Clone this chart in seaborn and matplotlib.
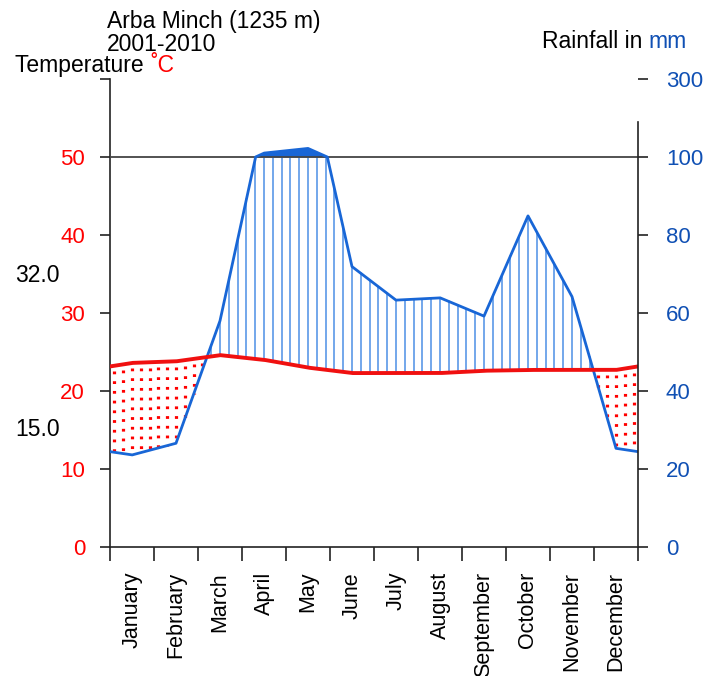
import numpy as np
import matplotlib
matplotlib.use("Agg")
import matplotlib.pyplot as plt
import seaborn as sns

# climate data
months = ["January", "February", "March", "April", "May", "June", "July",
          "August", "September", "October", "November", "December"]
temp_c = [23.6, 23.8, 24.6, 24.0, 23.0, 22.3, 22.3, 22.3, 22.6, 22.7, 22.7, 22.7]
rain_mm = [23.6, 26.6, 58.0, 110.0, 122.0, 71.9, 63.3, 63.9, 59.2, 84.9, 64.2, 25.3]
station = "Arba Minch (1235 m)"
period = "2001-2010"
mean_max_warm = "32.0"
mean_min_cold = "15.0"
temp_ticks = [0, 10, 20, 30, 40, 50, 60]
temp_labels = ["0", "10", "20", "30", "40", "50", ""]
rain_ticks = [0, 20, 40, 60, 80, 100, 300]

RED = "#ff0000"
BLUE = "#1050b4"
LINE_BLUE = "#1866d6"
HATCH_BLUE = "#4d8fe6"


def rain_to_axis(r):
    # walter-lieth scale: 2 mm per degree up to 100 mm, compressed above
    r = np.asarray(r, dtype=float)
    return np.where(r <= 100, r / 2.0, 50 + (r - 100) / 20.0)


def plot_climate_diagram():
    sns.set_theme(style="ticks")
    plt.rcParams["font.family"] = ["Liberation Sans", "DejaVu Sans"]
    plt.rcParams["lines.scale_dashes"] = False
    plt.rcParams["text.color"] = "black"
    plt.rcParams["xtick.labelcolor"] = "black"

    W, H = 706, 676
    fig = plt.figure(figsize=(W / 100, H / 100), dpi=100)
    ax = fig.add_axes([110 / W, (H - 547) / H, 528 / W, (547 - 79) / H])

    # month midpoints plus year-wrap edges
    edge_t = (temp_c[0] + temp_c[-1]) / 2
    edge_r = (rain_mm[0] + rain_mm[-1]) / 2
    xk = np.concatenate([[0], np.arange(12) + 0.5, [12]])
    tk = np.concatenate([[edge_t], temp_c, [edge_t]])
    rk = np.concatenate([[edge_r], rain_mm, [edge_r]])

    xd = np.linspace(0, 12, 2401)
    td = np.interp(xd, xk, tk)
    rd = np.interp(xd, xk, rk)
    ryd = rain_to_axis(rd)

    # perhumid part above 100 mm
    ax.fill_between(xd, 50, ryd, where=rd > 100, color=LINE_BLUE, lw=0)

    # hatching: humid (blue lines) and arid (red dots)
    for xs in np.arange(0.1, 12, 0.2):
        t = np.interp(xs, xk, tk)
        r = np.interp(xs, xk, rk)
        ry = float(rain_to_axis(r))
        if r / 2 > t:
            ax.plot([xs, xs], [t, min(ry, 50)], color=HATCH_BLUE, lw=1.1,
                    zorder=2)
        else:
            ax.plot([xs, xs], [t - 0.7, ry], color=RED, lw=2.3,
                    ls=(0, (2, 5)), zorder=2)

    ax.axhline(50, color="#444444", lw=1.3, zorder=3)

    sns.lineplot(x=xd, y=ryd, ax=ax, color=LINE_BLUE, lw=2.0, sort=False,
                 estimator=None, zorder=4)
    sns.lineplot(x=xd, y=td, ax=ax, color="#f01010", lw=2.8, sort=False,
                 estimator=None, zorder=5)

    ax.set_xlim(0, 12)
    ax.set_ylim(0, 60)
    ax.set_xlabel("")
    ax.set_ylabel("")

    for s in ["top", "right"]:
        ax.spines[s].set_visible(False)
    for s in ["left", "bottom"]:
        ax.spines[s].set_color("#222222")
        ax.spines[s].set_linewidth(1.2)

    ax.set_xticks(range(13))
    ax.set_xticklabels([])
    ax.set_xticks(np.arange(12) + 0.5, minor=True)
    ax.set_xticklabels(months, minor=True, rotation=90, fontsize=15.5,
                       va="top", ha="center", color="black")
    ax.tick_params(axis="x", which="major", length=10, width=1.2,
                   direction="out", color="#222222")
    ax.tick_params(axis="x", which="minor", length=0, pad=18)

    ax.set_yticks(temp_ticks)
    ax.set_yticklabels(temp_labels, fontsize=16, color=RED)
    ax.tick_params(axis="y", length=7, width=1.2, pad=11, color="#222222")

    ax2 = ax.twinx()
    ax2.set_ylim(0, 60)
    ax2.set_yticks(rain_to_axis(rain_ticks))
    ax2.set_yticklabels([str(v) for v in rain_ticks], fontsize=16,
                        color=BLUE, ha="left")
    ax2.tick_params(axis="y", length=7, width=1.2, pad=13, color="#222222")
    for s in ["top", "left", "bottom"]:
        ax2.spines[s].set_visible(False)
    ax2.spines["right"].set_bounds(0, 54.5)
    ax2.spines["right"].set_color("#222222")
    ax2.spines["right"].set_linewidth(1.2)

    # header texts
    fs = 16.5
    fig.text(107 / W, 1 - 28 / H, station, fontsize=fs, va="baseline")
    fig.text(107 / W, 1 - 51 / H, period, fontsize=fs, va="baseline")
    t1 = fig.text(15 / W, 1 - 72 / H, "Temperature ", fontsize=fs,
                  va="baseline")
    r1 = fig.text(542 / W, 1 - 48 / H, "Rainfall in ", fontsize=fs,
                  va="baseline")
    fig.canvas.draw()
    rend = fig.canvas.get_renderer()
    bb = t1.get_window_extent(rend)
    fig.text(bb.x1 / W, 1 - 72 / H, "˚C", fontsize=fs, va="baseline",
             color=RED)
    bb = r1.get_window_extent(rend)
    fig.text(bb.x1 / W, 1 - 48 / H, "mm", fontsize=fs, va="baseline",
             color=BLUE)

    fig.text(15 / W, 1 - 276 / H, mean_max_warm, fontsize=fs, va="center")
    fig.text(15 / W, 1 - 430 / H, mean_min_cold, fontsize=fs, va="center")

    fig.savefig("out.png", dpi=100)


if __name__ == "__main__":
    plot_climate_diagram()
